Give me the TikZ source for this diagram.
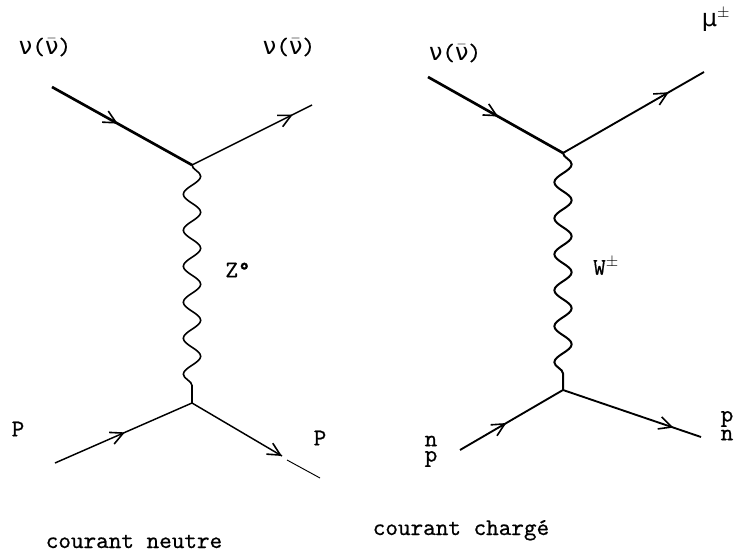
\documentclass[tikz,border=0pt]{standalone}
\usepackage{fontspec}
\setmainfont{lmmono10-regular.otf}[FakeBold=0.6]
\newfontfamily\grk{DejaVu Sans}
\newcommand{\nuup}{{\grk ν}}
\newcommand{\nubar}{$\bar{\hbox{\grk ν}}$}
\usetikzlibrary{arrows.meta,decorations.markings,decorations.pathmorphing}
\begin{document}
\begin{tikzpicture}[x=0.75pt,y=-0.75pt,
  fermion/.style={line width=1.1pt},
  thickfermion/.style={line width=2pt},
  arrowat/.style={postaction={decorate},decoration={markings,
     mark=at position #1 with {\arrow{Straight Barb[length=9.5pt,width=9.5pt,line width=1.2pt]}}}},
  boson/.style={line width=1.2pt,decorate,decoration={snake,amplitude=6.5pt,segment length=27pt}},
  lbl/.style={inner sep=0pt,font=\fontsize{18}{20}\selectfont},
  captiontext/.style={inner sep=0pt,anchor=base,font=\fontsize{18}{20}\selectfont}]
\useasboundingbox (0,0) rectangle (734,559);
% ---------- left diagram ----------
\coordinate (a1) at (52,87);
\coordinate (v1) at (192,165);
\coordinate (a2) at (312,105);
\coordinate (v2) at (192,403);
\coordinate (a3) at (55,463);
\coordinate (a4) at (282,456);
\coordinate (a5) at (287,460);
\coordinate (a6) at (320,478);
\draw[thickfermion,arrowat=0.47] (a1) -- (v1);
\draw[fermion,arrowat=0.84] (v1) -- (a2);
\draw[boson] (v1) -- (v2);
\draw[fermion,arrowat=0.51] (a3) -- (v2);
\draw[fermion,arrowat=1] (v2) -- (a4);
\draw[line width=0.7pt] (a5) -- (a6);
\node[lbl] (l1) at (45,47) {\nuup(\nubar)};
\node[lbl] (l2) at (289,47) {\nuup(\nubar)};
\node[lbl] (l3) at (238,270) {Z°};
\node[lbl] (l4) at (18,429) {P};
\node[lbl] (l5) at (320,438) {P};
% ---------- right diagram ----------
\coordinate (b1) at (428,77);
\coordinate (w1) at (563,153);
\coordinate (b2) at (704,72);
\coordinate (w2) at (563,390);
\coordinate (b3) at (460,450);
\coordinate (b4) at (701,437);
\draw[thickfermion,arrowat=0.52] (b1) -- (w1);
\draw[fermion,line width=1.4pt,arrowat=0.75] (w1) -- (b2);
\draw[boson,line width=1.5pt] (w1) -- (w2);
\draw[fermion,line width=1.4pt,arrowat=0.45] (b3) -- (w2);
\draw[fermion,line width=1.4pt,arrowat=0.8] (w2) -- (b4);
\node[lbl] (r1) at (455,53) {\nuup(\nubar)};
\node[lbl] (r2) at (716,20) {{\grk μ}$^{\pm}$};
\node[lbl] (r3) at (606,266) {W$^{\pm}$};
\node[lbl] (r4) at (431,441) {n};
\node[lbl] (r5) at (431,459) {p};
\node[lbl] (r6) at (727,419) {p};
\node[lbl] (r7) at (727,435) {n};
% ---------- captions ----------
\node[captiontext] (c1) at (134,548) {courant neutre};
\node[captiontext] (c2) at (461,535) {courant chargé};
\end{tikzpicture}
\end{document}
